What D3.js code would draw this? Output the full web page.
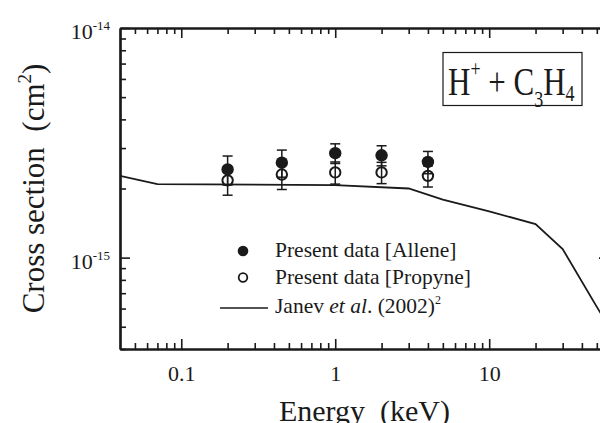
<!DOCTYPE html>
<html>
<head>
<meta charset="utf-8">
<script src="https://cdnjs.cloudflare.com/ajax/libs/d3/7.8.5/d3.min.js"></script>
<style>
  body { margin: 0; background: #fff; }
  svg { display: block; }
  text { font-family: "Liberation Serif", "Times New Roman", serif; fill: #1a1a1a; }
</style>
</head>
<body>
<div id="container"></div>
<script>
// measured data (energy in keV, cross sections in cm^2)
var energy = [0.2, 0.45, 1, 2, 4];
var allene = [2.42e-15, 2.59e-15, 2.85e-15, 2.79e-15, 2.61e-15];
var alleneErr = [0.35e-15, 0.35e-15, 0.28e-15, 0.28e-15, 0.29e-15];
var propyne = [2.17e-15, 2.30e-15, 2.35e-15, 2.35e-15, 2.27e-15];
var propyneErr = [0.30e-15, 0.32e-15, 0.26e-15, 0.25e-15, 0.24e-15];

// Janev et al. (2002) curve
var janevE = [0.04, 0.07, 1, 3, 5, 10, 20, 30, 50, 60];
var janevCS = [2.27e-15, 2.09e-15, 2.07e-15, 2.0e-15, 1.79e-15, 1.59e-15, 1.40e-15, 1.09e-15, 0.61e-15, 0.50e-15];

var xMajor = [0.1, 1, 10];
var xMinor = [0.05, 0.06, 0.07, 0.08, 0.09, 0.2, 0.3, 0.4, 0.5, 0.6, 0.7, 0.8, 0.9,
              2, 3, 4, 5, 6, 7, 8, 9, 20, 30, 40, 50];
var yMajor = [1e-14, 1e-15];
var yMajorExp = ["-14", "-15"];
var yMinor = [2e-15, 3e-15, 4e-15, 5e-15, 6e-15, 7e-15, 8e-15, 9e-15,
              4e-16, 5e-16, 6e-16, 7e-16, 8e-16, 9e-16];

var legendLabels = ["Present data [Allene]", "Present data [Propyne]", "Janev"];

var W = 600, H = 423;
var pLeft = 120, pRight = 609, pTop = 28, pBottom = 349;

var svg = d3.select("#container").append("svg")
  .attr("width", W).attr("height", H);

var x = d3.scaleLog().domain([0.04, 60]).range([pLeft, pRight]);
var y = d3.scaleLog().domain([4e-16, 1e-14]).range([pBottom, pTop]);

svg.append("clipPath").attr("id", "clip")
  .append("rect").attr("x", pLeft).attr("y", pTop)
  .attr("width", pRight - pLeft).attr("height", pBottom - pTop);

// axes with inward ticks
function styleAxis(g) {
  g.select(".domain").attr("stroke", "#1a1a1a").attr("stroke-width", 2.2);
  g.selectAll(".tick line").attr("stroke", "#1a1a1a").attr("stroke-width", 1.6);
}

svg.append("g").attr("transform", "translate(0," + pBottom + ")")
  .call(d3.axisBottom(x).tickValues(xMajor).tickSizeInner(-10).tickSizeOuter(0)
    .tickPadding(16).tickFormat(function(d) { return d; }))
  .call(styleAxis)
  .call(function(g) {
    g.selectAll(".tick text").attr("font-size", 22).attr("fill", "#1a1a1a")
      .attr("font-family", "Liberation Serif");
  });
svg.append("g").attr("transform", "translate(0," + pBottom + ")")
  .call(d3.axisBottom(x).tickValues(xMinor).tickSizeInner(-6).tickSizeOuter(0).tickFormat(""))
  .call(styleAxis);

svg.append("g").attr("transform", "translate(0," + pTop + ")")
  .call(d3.axisTop(x).tickValues(xMajor).tickSizeInner(-10).tickSizeOuter(0).tickFormat(""))
  .call(styleAxis);
svg.append("g").attr("transform", "translate(0," + pTop + ")")
  .call(d3.axisTop(x).tickValues(xMinor).tickSizeInner(-6).tickSizeOuter(0).tickFormat(""))
  .call(styleAxis);

svg.append("g").attr("transform", "translate(" + pLeft + ",0)")
  .call(d3.axisLeft(y).tickValues(yMajor).tickSizeInner(-10).tickSizeOuter(0).tickFormat(""))
  .call(styleAxis);
svg.append("g").attr("transform", "translate(" + pLeft + ",0)")
  .call(d3.axisLeft(y).tickValues(yMinor).tickSizeInner(-6).tickSizeOuter(0).tickFormat(""))
  .call(styleAxis);

svg.append("g").attr("transform", "translate(" + pRight + ",0)")
  .call(d3.axisRight(y).tickValues(yMajor).tickSizeInner(-10).tickSizeOuter(0).tickFormat(""))
  .call(styleAxis);
svg.append("g").attr("transform", "translate(" + pRight + ",0)")
  .call(d3.axisRight(y).tickValues(yMinor).tickSizeInner(-6).tickSizeOuter(0).tickFormat(""))
  .call(styleAxis);

// y tick labels 10^n
var ylab = svg.selectAll(".ylab").data(yMajor).enter().append("text")
  .attr("class", "ylab")
  .attr("x", pLeft - 10)
  .attr("y", function(d) { return y(d) + 11; })
  .attr("text-anchor", "end")
  .attr("font-size", 22);
ylab.append("tspan").text("10");
ylab.append("tspan").attr("font-size", 13).attr("dy", -9)
  .text(function(d, i) { return yMajorExp[i]; });

// axis titles
svg.append("text")
  .attr("x", (pLeft + pRight) / 2).attr("y", 421)
  .attr("text-anchor", "middle").attr("font-size", 30)
  .attr("xml:space", "preserve")
  .text("Energy  (keV)");

var yt = svg.append("text")
  .attr("transform", "translate(44," + (pTop + pBottom) / 2 + ") rotate(-90)")
  .attr("text-anchor", "middle").attr("font-size", 31)
  .attr("xml:space", "preserve");
yt.append("tspan").text("Cross section  (cm");
yt.append("tspan").attr("font-size", 19).attr("dy", -13).text("2");
yt.append("tspan").attr("dy", 13).text(")");

// plot content
var plot = svg.append("g").attr("clip-path", "url(#clip)");

var line = d3.line()
  .x(function(d, i) { return x(janevE[i]); })
  .y(function(d) { return y(d); });

plot.append("path").datum(janevCS)
  .attr("d", line)
  .attr("fill", "none").attr("stroke", "#1a1a1a").attr("stroke-width", 1.8);

function errorBars(vals, errs) {
  var g = plot.append("g").attr("stroke", "#1a1a1a").attr("stroke-width", 1.5);
  g.selectAll("line.v").data(vals).enter().append("line")
    .attr("x1", function(d, i) { return x(energy[i]); })
    .attr("x2", function(d, i) { return x(energy[i]); })
    .attr("y1", function(d, i) { return y(d + errs[i]); })
    .attr("y2", function(d, i) { return y(d - errs[i]); });
  [1, -1].forEach(function(s) {
    g.selectAll(null).data(vals).enter().append("line")
      .attr("x1", function(d, i) { return x(energy[i]) - 5; })
      .attr("x2", function(d, i) { return x(energy[i]) + 5; })
      .attr("y1", function(d, i) { return y(d + s * errs[i]); })
      .attr("y2", function(d, i) { return y(d + s * errs[i]); });
  });
}
errorBars(propyne, propyneErr);
errorBars(allene, alleneErr);

plot.selectAll("circle.open").data(propyne).enter().append("circle")
  .attr("cx", function(d, i) { return x(energy[i]); })
  .attr("cy", function(d) { return y(d); })
  .attr("r", 5.2)
  .attr("fill", "none").attr("stroke", "#1a1a1a").attr("stroke-width", 2);

plot.selectAll("circle.fill").data(allene).enter().append("circle")
  .attr("cx", function(d, i) { return x(energy[i]); })
  .attr("cy", function(d) { return y(d); })
  .attr("r", 6.2)
  .attr("fill", "#1a1a1a");

// legend
var lg = svg.append("g");
var lx = 243, ly0 = 251, ldy = 26.5;
lg.append("circle").attr("cx", lx).attr("cy", ly0).attr("r", 5.3).attr("fill", "#1a1a1a");
lg.append("circle").attr("cx", lx).attr("cy", ly0 + ldy).attr("r", 4.3)
  .attr("fill", "none").attr("stroke", "#1a1a1a").attr("stroke-width", 1.8);
lg.append("line").attr("x1", 220).attr("x2", 268).attr("y1", ly0 + 2 * ldy + 4).attr("y2", ly0 + 2 * ldy + 4)
  .attr("stroke", "#1a1a1a").attr("stroke-width", 1.4);
lg.selectAll("text.l").data(legendLabels.slice(0, 2)).enter().append("text")
  .attr("x", 275).attr("y", function(d, i) { return ly0 + 6 + i * ldy; })
  .attr("font-size", 21.5).text(function(d) { return d; });
var jt = lg.append("text").attr("x", 275).attr("y", ly0 + 6 + 2 * ldy + 3)
  .attr("font-size", 21.5).attr("xml:space", "preserve");
jt.append("tspan").text(legendLabels[2] + " ");
jt.append("tspan").attr("font-style", "italic").text("et al");
jt.append("tspan").text(". (2002)");
jt.append("tspan").attr("font-size", 12).attr("dy", -9).text("2");

// reaction label box
svg.append("rect").attr("x", 443).attr("y", 52.5).attr("width", 139).attr("height", 53)
  .attr("fill", "none").attr("stroke", "#1a1a1a").attr("stroke-width", 1.2);
var bt = svg.append("text")
  .attr("transform", "translate(448,95) scale(1,1.28)")
  .attr("font-size", 31).attr("xml:space", "preserve");
bt.append("tspan").text("H");
bt.append("tspan").attr("font-size", 18).attr("dy", -15).text("+");
bt.append("tspan").attr("dy", 15).text(" + C");
bt.append("tspan").attr("font-size", 18).attr("dy", 9).text("3");
bt.append("tspan").attr("dy", -9).text("H");
bt.append("tspan").attr("font-size", 18).attr("dy", 5).text("4");
</script>
</body>
</html>
